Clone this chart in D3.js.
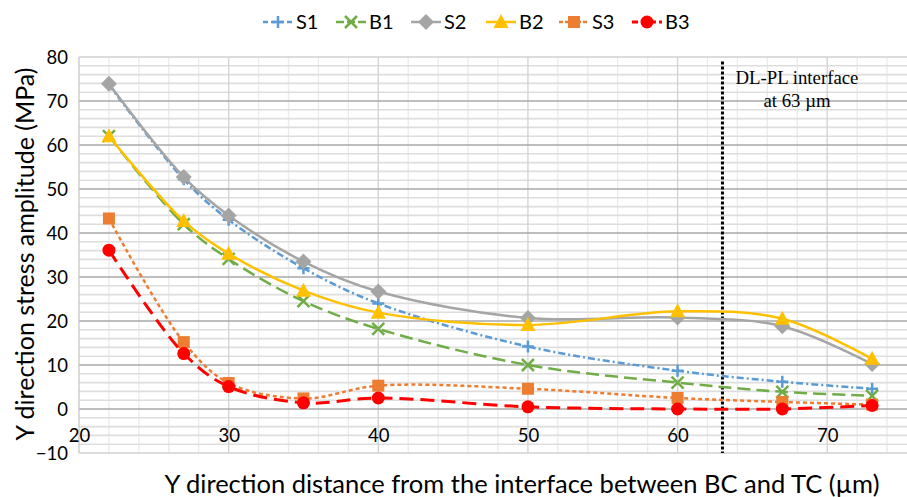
<!DOCTYPE html>
<html><head><meta charset="utf-8">
<script src="https://cdn.jsdelivr.net/npm/d3@7"></script>
<style>body{margin:0;background:#fff}svg{display:block}</style>
</head><body><svg id="c" width="907" height="497"></svg>
<script>
const xValues = [22, 27, 30, 35, 40, 50, 60, 67, 73];
const seriesNames = ["S1", "B1", "S2", "B2", "S3", "B3"];
const S1 = [73.7, 52.2, 43, 32, 24, 14.2, 8.7, 6.2, 4.6];
const B1 = [62, 42, 34.1, 24.5, 18.2, 10, 6, 3.9, 3];
const S2 = [73.9, 52.7, 44, 33.5, 26.7, 20.7, 20.8, 18.8, 10.2];
const B2 = [62, 42.7, 35.3, 26.9, 21.9, 19.1, 22.2, 20.5, 11.4];
const S3 = [43.3, 15.2, 5.9, 2.4, 5.3, 4.6, 2.5, 1.6, 1];
const B3 = [36.1, 12.6, 5.1, 1.4, 2.5, 0.5, 0, 0, 0.8];
const yTicks = [-10, 0, 10, 20, 30, 40, 50, 60, 70, 80];
const xTicks = [20, 30, 40, 50, 60, 70];
const interfaceX = 63;
const annotation = ["DL-PL interface", "at 63 µm"];
const xTitle = "Y direction distance from the interface between BC and TC (µm)";
const yTitle = "Y direction stress amplitude (MPa)";

const colors = {S1:"#5B9BD5", B1:"#70AD47", S2:"#A5A5A5", B2:"#FFC000", S3:"#ED7D31", B3:"#FF0000"};
const dashes = {S1:"7,3,2,3", B1:"13,6", S2:null, B2:null, S3:"4,3", B3:"14,7"};
const widths = {S1:2.5, B1:2.5, S2:2.5, B2:2.5, S3:2.5, B3:3};
const markers = {S1:"plus", B1:"x", S2:"diamond", B2:"triangle", S3:"square", B3:"circle"};
const data = {S1, B1, S2, B2, S3, B3};

const svg = d3.select("#c");
const x = d3.scaleLinear().domain([20, 76]).range([79, 917]);
const y = d3.scaleLinear().domain([-10, 80]).range([453, 57]);
const font = "Lato, 'Open Sans', sans-serif";

const g = svg.append("g");
// minor gridlines
d3.range(20, 77, 2).forEach(v => { if (v % 10) g.append("line").attr("x1", x(v)).attr("x2", x(v)).attr("y1", y(80)).attr("y2", y(-10)).attr("stroke", "#ebebeb").attr("stroke-width", 1.3); });
d3.range(-10, 81, 2).forEach(v => { if (v % 10) g.append("line").attr("x1", x(20)).attr("x2", 907).attr("y1", y(v)).attr("y2", y(v)).attr("stroke", "#dedede").attr("stroke-width", 1.6); });
// major gridlines
d3.range(30, 77, 10).forEach(v => g.append("line").attr("x1", x(v)).attr("x2", x(v)).attr("y1", y(80)).attr("y2", y(-10)).attr("stroke", "#d2d2d2").attr("stroke-width", 1.3));
yTicks.forEach(v => g.append("line").attr("x1", x(20)).attr("x2", 907).attr("y1", y(v)).attr("y2", y(v)).attr("stroke", v === 80 || v === -10 ? "#d0d0d0" : "#a8a8a8").attr("stroke-width", 1.6));
g.append("line").attr("x1", x(20)).attr("x2", x(20)).attr("y1", y(80)).attr("y2", y(-10)).attr("stroke", "#c8c8c8").attr("stroke-width", 1.3);

// y axis labels
const yAxis = d3.axisLeft(y).tickValues(yTicks).tickSize(0).tickPadding(0);
const ya = svg.append("g").attr("transform", `translate(${68},0)`).call(yAxis);
ya.select(".domain").remove();
ya.selectAll("text").attr("font-family", font).attr("font-size", 18.5).attr("fill", "#000").attr("dy", "0.35em").attr("x", 0);

// x axis labels (axis crosses at 0)
const xAxis = d3.axisBottom(x).tickValues(xTicks).tickSize(0).tickPadding(0);
const xa = svg.append("g").attr("transform", `translate(0,${y(0) + 17})`).call(xAxis);
xa.select(".domain").remove();
xa.selectAll("text").attr("font-family", font).attr("font-size", 18.5).attr("fill", "#000").attr("dy", "0.35em").attr("y", 10);

// interface line
svg.append("line").attr("x1", x(interfaceX)).attr("x2", x(interfaceX)).attr("y1", y(79)).attr("y2", y(-10))
  .attr("stroke", "#000").attr("stroke-width", 3).attr("stroke-dasharray", "3,2");
svg.append("text").attr("x", 797).attr("y", 77).attr("text-anchor", "middle").attr("dy", "0.35em")
  .attr("font-family", "'Liberation Serif', 'DejaVu Serif', serif").attr("font-size", 18.8).text(annotation[0]);
svg.append("text").attr("x", 797).attr("y", 100).attr("text-anchor", "middle").attr("dy", "0.35em")
  .attr("font-family", "'Liberation Serif', 'DejaVu Serif', serif").attr("font-size", 18.8).text(annotation[1]);

function drawMarker(sel, type, cx, cy, color) {
  if (type === "plus") {
    sel.append("path").attr("d", `M${cx-6},${cy}H${cx+6}M${cx},${cy-6}V${cy+6}`).attr("stroke", color).attr("stroke-width", 2.5).attr("fill", "none");
  } else if (type === "x") {
    sel.append("path").attr("d", `M${cx-6},${cy-6}L${cx+6},${cy+6}M${cx-6},${cy+6}L${cx+6},${cy-6}`).attr("stroke", color).attr("stroke-width", 2.5).attr("fill", "none");
  } else if (type === "diamond") {
    sel.append("path").attr("d", `M${cx},${cy-8}L${cx+8},${cy}L${cx},${cy+8}L${cx-8},${cy}Z`).attr("fill", color);
  } else if (type === "triangle") {
    sel.append("path").attr("d", `M${cx},${cy-8}L${cx+7.5},${cy+6}L${cx-7.5},${cy+6}Z`).attr("fill", color);
  } else if (type === "square") {
    sel.append("rect").attr("x", cx-6).attr("y", cy-6).attr("width", 12).attr("height", 12).attr("fill", color);
  } else {
    sel.append("circle").attr("cx", cx).attr("cy", cy).attr("r", 6.5).attr("fill", color);
  }
}

const line = d3.line().x(d => x(d[0])).y(d => y(d[1])).curve(d3.curveCatmullRom.alpha(0.5));
const plot = svg.append("g");
seriesNames.forEach(name => {
  const pts = xValues.map((xv, i) => [xv, data[name][i]]);
  const sg = plot.append("g");
  sg.append("path").attr("d", line(pts)).attr("fill", "none").attr("stroke", colors[name])
    .attr("stroke-width", widths[name]).attr("stroke-dasharray", dashes[name]);
  pts.forEach(p => drawMarker(sg, markers[name], x(p[0]), y(p[1]), colors[name]));
});

// legend
const legX = [263, 336, 411, 486, 559, 632];
const lg = svg.append("g");
seriesNames.forEach((name, i) => {
  const lx = legX[i], ly = 22;
  lg.append("line").attr("x1", lx).attr("x2", lx + 30).attr("y1", ly).attr("y2", ly).attr("stroke", colors[name])
    .attr("stroke-width", widths[name]).attr("stroke-dasharray", name === "S1" ? "5,3" : name === "B1" ? "8,3" : name === "S3" ? "4,2" : name === "B3" ? "6,3" : null);
  drawMarker(lg, markers[name], lx + 15, ly, colors[name]);
  lg.append("text").attr("x", lx + 33).attr("y", ly).attr("dy", "0.36em").attr("font-family", "'Liberation Sans Narrow', Lato, sans-serif")
    .attr("font-size", 20).text(name);
});

// titles
svg.append("text").attr("x", 522).attr("y", 484).attr("text-anchor", "middle").attr("dy", "0.35em")
  .attr("font-family", font).attr("font-size", 25.5).text(xTitle);
svg.append("text").attr("transform", "translate(25,254) rotate(-90)").attr("text-anchor", "middle").attr("dy", "0.35em")
  .attr("font-family", font).attr("font-size", 25).text(yTitle);
</script></body></html>
